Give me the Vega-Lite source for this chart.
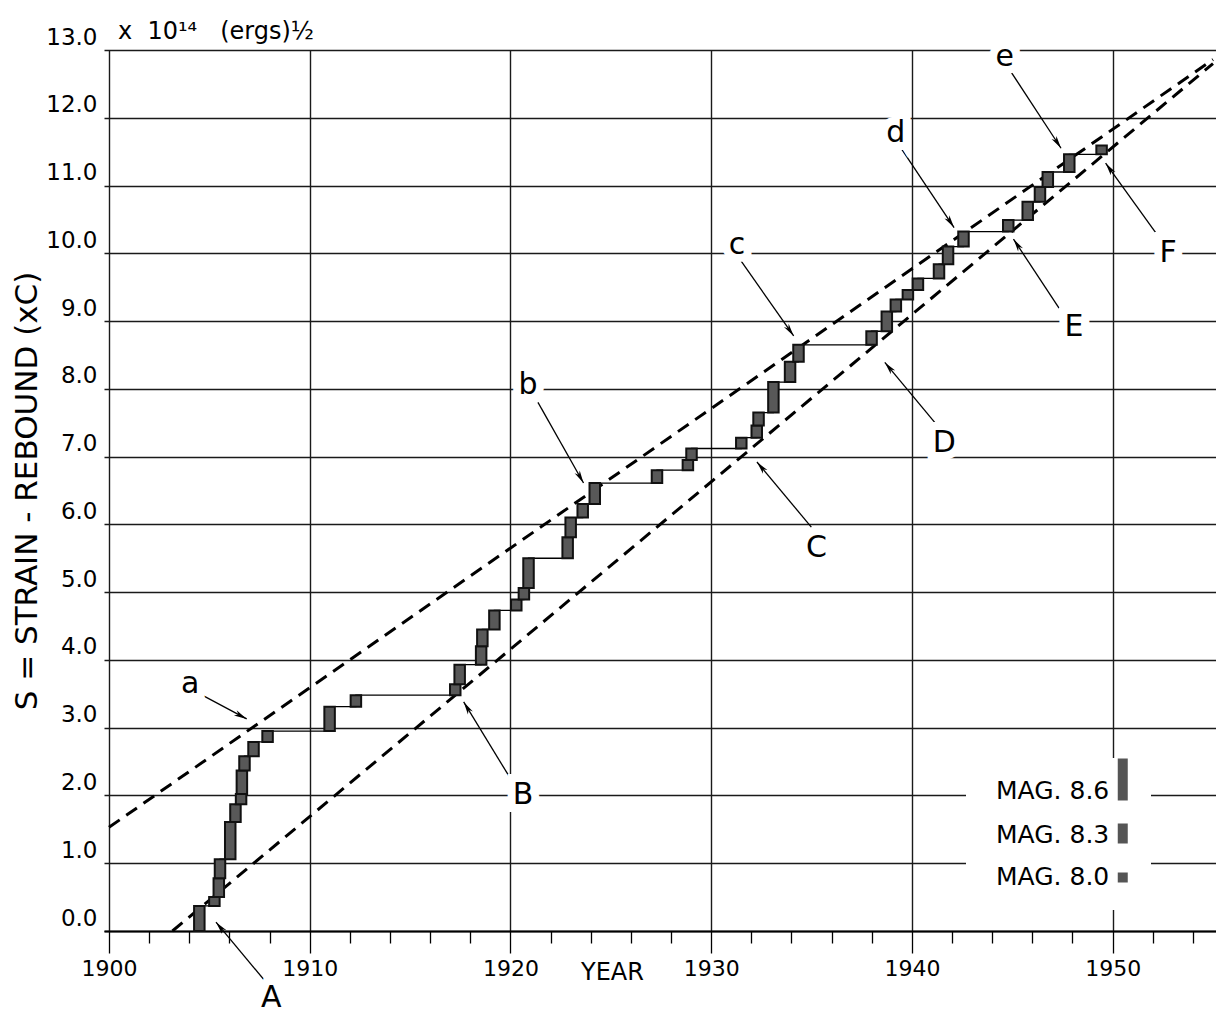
{
  "$schema": "https://vega.github.io/schema/vega-lite/v6.json",
  "width": 1114,
  "height": 881,
  "autosize": {"type": "none"},
  "padding": {"left": 104, "top": 50, "right": 0, "bottom": 82},
  "background": "white",
  "title": {"text": "x\u00a0\u00a010¹⁴\u00a0\u00a0\u00a0(ergs)½", "anchor": "start", "frame": "group", "dx": 14, "offset": -37, "baseline": "alphabetic", "font": "DejaVu Sans", "fontSize": 24, "fontWeight": "normal", "color": "black"},
  "config": {
    "view": {"stroke": null},
    "text": {"font": "DejaVu Sans"}
  },
  "datasets": {
    "quakes": [
      {"year": 1904.5, "s0": 0, "s1": 0.37},
      {"year": 1905.25, "s0": 0.37, "s1": 0.5},
      {"year": 1905.47, "s0": 0.5, "s1": 0.78},
      {"year": 1905.53, "s0": 0.78, "s1": 1.06},
      {"year": 1906.04, "s0": 1.06, "s1": 1.61},
      {"year": 1906.3, "s0": 1.61, "s1": 1.87},
      {"year": 1906.58, "s0": 1.87, "s1": 2.02},
      {"year": 1906.62, "s0": 2.02, "s1": 2.37},
      {"year": 1906.75, "s0": 2.37, "s1": 2.58},
      {"year": 1907.2, "s0": 2.58, "s1": 2.79},
      {"year": 1907.9, "s0": 2.79, "s1": 2.95},
      {"year": 1910.99, "s0": 2.95, "s1": 3.31},
      {"year": 1912.3, "s0": 3.31, "s1": 3.48},
      {"year": 1917.25, "s0": 3.48, "s1": 3.64},
      {"year": 1917.47, "s0": 3.64, "s1": 3.93},
      {"year": 1918.54, "s0": 3.93, "s1": 4.2},
      {"year": 1918.6, "s0": 4.2, "s1": 4.45},
      {"year": 1919.2, "s0": 4.45, "s1": 4.73},
      {"year": 1920.29, "s0": 4.73, "s1": 4.89},
      {"year": 1920.67, "s0": 4.89, "s1": 5.06},
      {"year": 1920.9, "s0": 5.06, "s1": 5.5},
      {"year": 1922.85, "s0": 5.5, "s1": 5.81},
      {"year": 1923.0, "s0": 5.81, "s1": 6.1},
      {"year": 1923.6, "s0": 6.1, "s1": 6.3},
      {"year": 1924.2, "s0": 6.3, "s1": 6.61},
      {"year": 1927.3, "s0": 6.61, "s1": 6.8},
      {"year": 1928.84, "s0": 6.8, "s1": 6.95},
      {"year": 1929.02, "s0": 6.95, "s1": 7.12},
      {"year": 1931.5, "s0": 7.12, "s1": 7.28},
      {"year": 1932.27, "s0": 7.28, "s1": 7.46},
      {"year": 1932.36, "s0": 7.46, "s1": 7.65},
      {"year": 1933.1, "s0": 7.65, "s1": 8.1},
      {"year": 1933.93, "s0": 8.1, "s1": 8.4},
      {"year": 1934.35, "s0": 8.4, "s1": 8.65},
      {"year": 1937.99, "s0": 8.65, "s1": 8.85},
      {"year": 1938.75, "s0": 8.85, "s1": 9.14},
      {"year": 1939.2, "s0": 9.14, "s1": 9.32},
      {"year": 1939.8, "s0": 9.32, "s1": 9.46},
      {"year": 1940.3, "s0": 9.46, "s1": 9.63},
      {"year": 1941.35, "s0": 9.63, "s1": 9.84},
      {"year": 1941.8, "s0": 9.84, "s1": 10.1},
      {"year": 1942.57, "s0": 10.1, "s1": 10.32},
      {"year": 1944.8, "s0": 10.32, "s1": 10.49},
      {"year": 1945.77, "s0": 10.49, "s1": 10.76},
      {"year": 1946.38, "s0": 10.76, "s1": 10.98},
      {"year": 1946.77, "s0": 10.98, "s1": 11.2},
      {"year": 1947.84, "s0": 11.2, "s1": 11.46},
      {"year": 1949.45, "s0": 11.46, "s1": 11.59}
    ],
    "trend": [
      {"line": "upper", "year": 1900, "s": 1.53},
      {"line": "upper", "year": 1955, "s": 12.86},
      {"line": "lower", "year": 1903.16, "s": 0},
      {"line": "lower", "year": 1955, "s": 12.8}
    ],
    "notes": [
      {"label": "a", "lx": 1904.05, "ly": 3.64, "x1": 1904.64, "y1": 3.48, "x2": 1906.86, "y2": 3.13},
      {"label": "b", "lx": 1920.88, "ly": 8.05, "x1": 1921.37, "y1": 7.8, "x2": 1923.64, "y2": 6.61},
      {"label": "c", "lx": 1931.29, "ly": 10.12, "x1": 1931.39, "y1": 9.93, "x2": 1934.11, "y2": 8.78},
      {"label": "d", "lx": 1939.19, "ly": 11.77, "x1": 1939.44, "y1": 11.56, "x2": 1942.1, "y2": 10.38},
      {"label": "e", "lx": 1944.62, "ly": 12.89, "x1": 1944.82, "y1": 12.73, "x2": 1947.43, "y2": 11.55},
      {"label": "A", "lx": 1908.09, "ly": -0.99, "x1": 1907.95, "y1": -0.8, "x2": 1905.33, "y2": 0.13},
      {"label": "B", "lx": 1920.63, "ly": 2.01, "x1": 1920.04, "y1": 2.23, "x2": 1917.67, "y2": 3.38},
      {"label": "C", "lx": 1935.24, "ly": 5.65, "x1": 1934.99, "y1": 5.96, "x2": 1932.28, "y2": 6.92},
      {"label": "D", "lx": 1941.61, "ly": 7.2, "x1": 1941.26, "y1": 7.46, "x2": 1938.65, "y2": 8.39},
      {"label": "E", "lx": 1948.08, "ly": 8.91, "x1": 1947.33, "y1": 9.19, "x2": 1945.06, "y2": 10.21},
      {"label": "F", "lx": 1952.76, "ly": 10.0, "x1": 1952.52, "y1": 10.15, "x2": 1949.65, "y2": 11.33}
    ]
  },
  "layer": [
    {
      "data": {"name": "trend"},
      "mark": {"type": "line", "color": "black", "strokeWidth": 3, "strokeDash": [13, 8]},
      "encoding": {
        "x": {
          "field": "year", "type": "quantitative",
          "scale": {"domain": [1900, 1955], "nice": false, "zero": false},
          "axis": {
            "values": [1900,1901,1902,1903,1904,1905,1906,1907,1908,1909,1910,1911,1912,1913,1914,1915,1916,1917,1918,1919,1920,1921,1922,1923,1924,1925,1926,1927,1928,1929,1930,1931,1932,1933,1934,1935,1936,1937,1938,1939,1940,1941,1942,1943,1944,1945,1946,1947,1948,1949,1950,1951,1952,1953,1954],
            "labelExpr": "datum.value % 10 === 0 ? format(datum.value, 'd') : ''",
            "labelFont": "DejaVu Sans", "labelFontSize": 22, "labelColor": "black", "labelPadding": 5,
            "labelFlush": false, "labelOverlap": false,
            "tickColor": "black", "tickWidth": 1.3,
            "tickSize": {"condition": {"test": "datum.value % 10 === 0", "value": 22}, "value": 12},
            "domainColor": "black", "domainWidth": 2,
            "grid": true, "gridColor": "#1a1a1a", "gridWidth": 1.4,
            "gridOpacity": {"condition": {"test": "datum.value % 5 === 0", "value": 1}, "value": 0},
            "title": "YEAR", "titleFont": "DejaVu Sans", "titleFontSize": 24, "titleFontWeight": "normal", "titleColor": "black",
            "titleX": 508, "titleY": 48, "titleBaseline": "alphabetic", "titleAlign": "center", "titleAnchor": null
          }
        },
        "y": {
          "field": "s", "type": "quantitative",
          "scale": {"domain": [0, 13], "nice": false, "zero": false},
          "axis": {
            "values": [0,1,2,3,4,5,6,7,8,9,10,11,12,13],
            "format": ".1f",
            "labelFont": "DejaVu Sans", "labelFontSize": 23, "labelColor": "black",
            "labelBaseline": "alphabetic", "labelOffset": -6, "labelPadding": 7,
            "ticks": false, "domain": false,
            "grid": true, "gridColor": "#1a1a1a", "gridWidth": 1.4,
            "title": "S = STRAIN - REBOUND (xC)", "titleFont": "DejaVu Sans", "titleFontSize": 31, "titleFontWeight": "normal", "titleColor": "black", "titlePadding": 2
          }
        },
        "detail": {"field": "line"}
      }
    },
    {
      "data": {"name": "quakes"},
      "mark": {"type": "line", "interpolate": "step-after", "color": "black", "strokeWidth": 1.3},
      "encoding": {
        "x": {"field": "year", "type": "quantitative"},
        "y": {"field": "s1", "type": "quantitative"}
      }
    },
    {
      "data": {"name": "quakes"},
      "mark": {"type": "bar", "width": 10.5, "fill": "#585858", "stroke": "#111111", "strokeWidth": 2},
      "encoding": {
        "x": {"field": "year", "type": "quantitative"},
        "y": {"field": "s0", "type": "quantitative"},
        "y2": {"field": "s1"}
      }
    },
    {
      "data": {"name": "notes"},
      "mark": {"type": "rule", "color": "black", "strokeWidth": 1.3},
      "encoding": {
        "x": {"field": "x1", "type": "quantitative"},
        "y": {"field": "y1", "type": "quantitative"},
        "x2": {"field": "x2"},
        "y2": {"field": "y2"}
      }
    },
    {
      "data": {"name": "notes"},
      "mark": {"type": "point", "filled": true, "color": "black", "opacity": 1, "size": 260,
        "shape": "M0,0L0.36,1.6L0,1.15L-0.36,1.6Z",
        "angle": {"expr": "atan2(scale('x', datum.x2) - scale('x', datum.x1), scale('y', datum.y1) - scale('y', datum.y2)) * 180 / PI"}},
      "encoding": {
        "x": {"field": "x2", "type": "quantitative"},
        "y": {"field": "y2", "type": "quantitative"}
      }
    },
    {
      "data": {"name": "notes"},
      "mark": {"type": "text", "fontSize": 30, "font": "DejaVu Sans", "stroke": "white", "strokeWidth": 16, "fill": "white", "baseline": "middle", "align": "center"},
      "encoding": {
        "x": {"field": "lx", "type": "quantitative"},
        "y": {"field": "ly", "type": "quantitative"},
        "text": {"field": "label"}
      }
    },
    {
      "data": {"name": "notes"},
      "mark": {"type": "text", "fontSize": 30, "font": "DejaVu Sans", "fill": "black", "baseline": "middle", "align": "center"},
      "encoding": {
        "x": {"field": "lx", "type": "quantitative"},
        "y": {"field": "ly", "type": "quantitative"},
        "text": {"field": "label"}
      }
    },
    {
      "data": {"values": [{"mag": "MAG. 8.6"}, {"mag": "MAG. 8.3"}, {"mag": "MAG. 8.0"}]},
      "mark": {"type": "point", "opacity": 0, "filled": true, "color": "#555555", "stroke": "black", "strokeWidth": 1.5},
      "encoding": {
        "shape": {
          "field": "mag", "type": "nominal",
          "scale": {"domain": ["MAG. 8.6", "MAG. 8.3", "MAG. 8.0"], "range": ["M23.85,-6.4H25.85V2H23.85Z", "M23.85,-2.2H25.85V1.8H23.85Z", "M23.85,-0.8H25.85V1.2H23.85Z"]},
          "legend": {
            "orient": "none", "legendX": 862, "legendY": 708, "title": null,
            "fillColor": "white", "padding": 20,
            "symbolSize": 100, "labelOffset": -15,
            "symbolFillColor": "#555555", "symbolStrokeColor": "black", "symbolStrokeWidth": 1.5,
            "labelFont": "DejaVu Sans", "labelFontSize": 25, "labelColor": "black",
            "rowPadding": 16,
            "encode": {"symbols": {"update": {"opacity": {"value": 1}}}}
          }
        }
      }
    }
  ]
}
